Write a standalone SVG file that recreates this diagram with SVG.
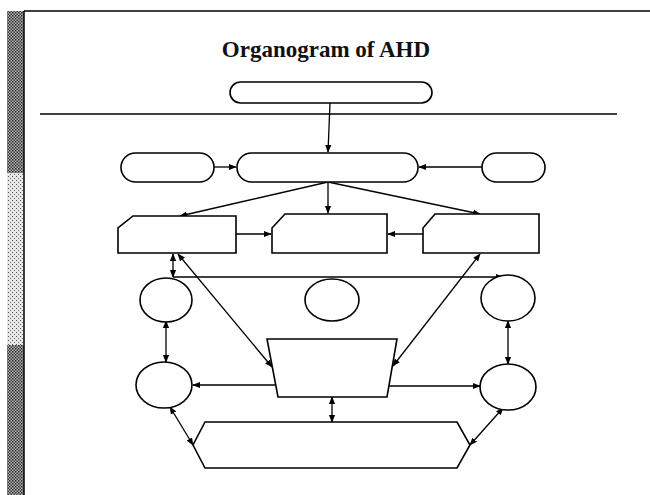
<svg xmlns="http://www.w3.org/2000/svg" width="650" height="495" viewBox="0 0 650 495">
<style>
.n{fill:#fff;stroke:#000;stroke-width:1.6}
.c{fill:none;stroke:#000;stroke-width:1.3}
.t{font-family:"Liberation Serif","Times New Roman",serif;font-weight:bold;font-size:23px;fill:#111}
</style>
<defs>
<marker id="a" viewBox="0 0 10 10" refX="9" refY="5" markerWidth="6" markerHeight="6" orient="auto-start-reverse"><path d="M0,1 L10,5 L0,9 z" fill="#000"/></marker>
<pattern id="dk" width="3" height="3" patternUnits="userSpaceOnUse"><rect width="3" height="3" fill="#bbb"/><rect width="1.5" height="1.5" fill="#222"/><rect x="1.5" y="1.5" width="1.5" height="1.5" fill="#333"/></pattern>
<pattern id="lt" width="4" height="4" patternUnits="userSpaceOnUse"><rect width="4" height="4" fill="#e6e6e6"/><rect width="1" height="1" fill="#555"/><rect x="2" y="2" width="1" height="1" fill="#777"/></pattern>
</defs>
<rect width="650" height="495" fill="#fff"/>
<g id="frame">
<rect x="7" y="11" width="17" height="162" fill="url(#dk)"/>
<rect x="7" y="173" width="17" height="172" fill="url(#lt)"/>
<rect x="7" y="345" width="17" height="150" fill="url(#dk)"/>
<line x1="24" y1="11" x2="650" y2="11" stroke="#000" stroke-width="1.5"/>
<line x1="24" y1="11" x2="24" y2="495" stroke="#000" stroke-width="1.5"/>
<line x1="40" y1="114" x2="617" y2="114" stroke="#000" stroke-width="1.5"/>
<text class="t" x="326" y="57" text-anchor="middle">Organogram of AHD</text>
</g>
<g id="connectors">
<line class="c" x1="330" y1="103" x2="328" y2="152" marker-end="url(#a)"/>
<line class="c" x1="214" y1="167" x2="236" y2="167" marker-end="url(#a)"/>
<line class="c" x1="482" y1="167" x2="419" y2="167" marker-end="url(#a)"/>
<line class="c" x1="328" y1="182" x2="180" y2="216" marker-end="url(#a)"/>
<line class="c" x1="328" y1="182" x2="328" y2="213" marker-end="url(#a)"/>
<line class="c" x1="328" y1="182" x2="480" y2="214" marker-end="url(#a)"/>
<line class="c" x1="236" y1="234" x2="271" y2="234" marker-end="url(#a)"/>
<line class="c" x1="423" y1="234" x2="388" y2="234" marker-end="url(#a)"/>
<line class="c" x1="173" y1="254" x2="173" y2="277" marker-start="url(#a)" marker-end="url(#a)"/>
<line class="c" x1="173" y1="277" x2="503" y2="277" marker-end="url(#a)"/>
<line class="c" x1="166" y1="321" x2="166" y2="362" marker-start="url(#a)" marker-end="url(#a)"/>
<line class="c" x1="178" y1="254" x2="272" y2="367" marker-start="url(#a)" marker-end="url(#a)"/>
<line class="c" x1="480" y1="254" x2="393" y2="366" marker-start="url(#a)" marker-end="url(#a)"/>
<line class="c" x1="508" y1="321" x2="508" y2="364" marker-start="url(#a)" marker-end="url(#a)"/>
<line class="c" x1="276" y1="385" x2="193" y2="385" marker-end="url(#a)"/>
<line class="c" x1="389" y1="386" x2="480" y2="386" marker-end="url(#a)"/>
<line class="c" x1="332" y1="397" x2="332" y2="422" marker-start="url(#a)" marker-end="url(#a)"/>
<line class="c" x1="170" y1="407" x2="193" y2="445" marker-start="url(#a)" marker-end="url(#a)"/>
<line class="c" x1="503" y1="408" x2="470" y2="445" marker-start="url(#a)" marker-end="url(#a)"/>
</g>
<g id="top"><rect class="n" x="230" y="82" width="202" height="21" rx="10.5"/></g>
<g id="head"><rect class="n" x="237" y="153" width="181" height="29" rx="14.5"/></g>
<g id="left-adv"><rect class="n" x="121" y="153" width="93" height="29" rx="14.5"/></g>
<g id="right-adv"><rect class="n" x="482" y="153" width="63" height="29" rx="14.5"/></g>
<g id="box-left"><path class="n" d="M133,216 L236,216 L236,253 L118,253 L118,228 Z"/></g>
<g id="box-mid"><path class="n" d="M285,214 L387,214 L387,253 L272,253 L272,228 Z"/></g>
<g id="box-right"><path class="n" d="M435,214 L539,214 L539,253 L423,253 L423,228 Z"/></g>
<g id="circle-left"><ellipse class="n" cx="166" cy="300" rx="26" ry="22"/></g>
<g id="circle-mid"><ellipse class="n" cx="332" cy="300" rx="27" ry="21"/></g>
<g id="circle-right"><ellipse class="n" cx="508" cy="298" rx="27" ry="23"/></g>
<g id="trapezoid"><path class="n" d="M267,339 L397,339 L387,397 L278,397 Z"/></g>
<g id="circle-lower-left"><ellipse class="n" cx="164" cy="385" rx="28" ry="23"/></g>
<g id="circle-lower-right"><ellipse class="n" cx="508" cy="387" rx="28" ry="23"/></g>
<g id="hexagon"><path class="n" d="M205,422 L457,422 L470,445 L457,468 L205,468 L193,445 Z"/></g>
</svg>
